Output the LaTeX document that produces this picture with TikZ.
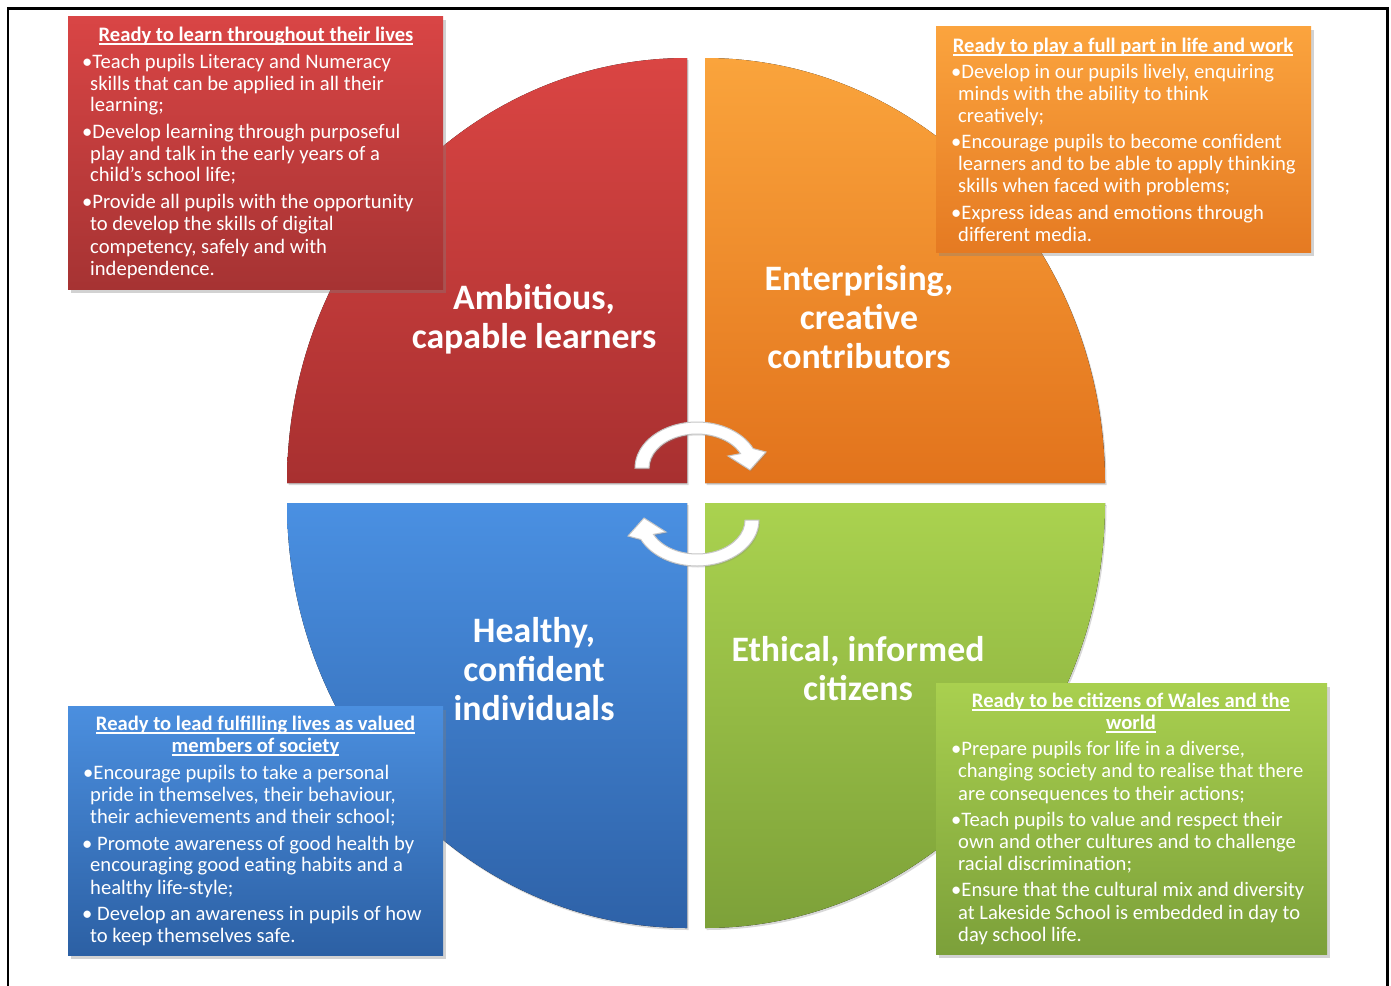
\documentclass[tikz,border=0pt]{standalone}
\usepackage{fontspec}
\setmainfont{Carlito}
\newcommand{\myul}[1]{\setbox0\hbox{#1}\rlap{\vrule height -2.4pt depth 3.7pt width \wd0}\box0}
\usetikzlibrary{shadows,calc}
\definecolor{qRedT}{HTML}{DA4543}
\definecolor{qRedB}{HTML}{A83030}
\definecolor{qOraT}{HTML}{FAA43C}
\definecolor{qOraB}{HTML}{E2731C}
\definecolor{qBluT}{HTML}{4A90E2}
\definecolor{qBluB}{HTML}{2E62A8}
\definecolor{qGreT}{HTML}{AAD24F}
\definecolor{qGreB}{HTML}{7DA139}
\definecolor{bRedT}{HTML}{D94545}
\definecolor{bRedB}{HTML}{A63333}
\definecolor{bOraT}{HTML}{FBA43E}
\definecolor{bOraB}{HTML}{E57A22}
\definecolor{bBluT}{HTML}{4B8FDF}
\definecolor{bBluB}{HTML}{2C60A4}
\definecolor{bGreT}{HTML}{A9D04F}
\definecolor{bGreB}{HTML}{7CA03A}
\begin{document}
\begin{tikzpicture}[x=1pt,y=-1pt,
  quad/.style={drop shadow={opacity=0.3,shadow xshift=1.5pt,shadow yshift=-2pt}},
  infobox/.style={draw=none,inner sep=0pt,drop shadow={opacity=0.35,shadow xshift=2.5pt,shadow yshift=-3.5pt}},
  bt/.style={font=\fontsize{20.6}{22}\selectfont,text=white,inner sep=0pt,anchor=base west},
  tt/.style={font=\bfseries\fontsize{20.6}{22}\selectfont,text=white,inner sep=0pt,anchor=base},
  big/.style={font=\bfseries\fontsize{35.8}{39}\selectfont,text=white,inner sep=0pt,anchor=base},
  arr/.style={fill=white,draw=gray!45,line width=1pt,drop shadow={opacity=0.25,shadow xshift=1pt,shadow yshift=-1.5pt}}]
\useasboundingbox (0,0) rectangle (1391,985);
\fill[white] (0,0) rectangle (1391,985);
\draw[line width=2.2pt] (8,995) -- (8,8.5) -- (1387.5,8.5) -- (1387.5,995);

% quadrants
\fill[quad,top color=qRedT,bottom color=qRedB] (687,483) -- (287,483) arc[start angle=180,end angle=270,x radius=400,y radius=425] -- cycle;
\fill[quad,top color=qOraT,bottom color=qOraB] (705,483) -- (705,58) arc[start angle=270,end angle=360,x radius=400,y radius=425] -- cycle;
\fill[quad,top color=qBluT,bottom color=qBluB] (687,503) -- (687,928) arc[start angle=90,end angle=180,x radius=400,y radius=425] -- cycle;
\fill[quad,top color=qGreT,bottom color=qGreB] (705,503) -- (1105,503) arc[start angle=0,end angle=90,x radius=400,y radius=425] -- cycle;

% circular arrows
\path[arr] (635,468) arc[start angle=180,end angle=335,x radius=62,y radius=46]
  -- (766,452) -- (750,470) -- (728,456) -- ($(697,468)+(335:48 and 34)$)
  arc[start angle=335,end angle=180,x radius=48,y radius=34] -- cycle;
\begin{scope}[rotate around={180:(697,494)}]
\path[arr] (635,468) arc[start angle=180,end angle=335,x radius=62,y radius=46]
  -- (766,452) -- (750,470) -- (728,456) -- ($(697,468)+(335:48 and 34)$)
  arc[start angle=335,end angle=180,x radius=48,y radius=34] -- cycle;
\end{scope}

% big labels
\node[big] (a1) at (534,309.5) {Ambitious,};
\node[big] (a2) at (534,348.5) {capable learners};
\node[big] (e1) at (859,290.5) {Enterprising,};
\node[big] (e2) at (859,329.5) {creative};
\node[big] (e3) at (859,368.5) {contributors};
\node[big] (h1) at (534,642.5) {Healthy,};
\node[big] (h2) at (534,681.5) {confident};
\node[big] (h3) at (534,720.5) {individuals};
\node[big] (c1) at (858,661.5) {Ethical, informed};
\node[big] (c2) at (858,700.5) {citizens};

% info boxes
\node[infobox,top color=bRedT,bottom color=bRedB,minimum width=375pt,minimum height=273pt] (rb) at (255.5,152.5) {};
\node[infobox,top color=bOraT,bottom color=bOraB,minimum width=375pt,minimum height=226pt] (ob) at (1123.5,139) {};
\node[infobox,top color=bBluT,bottom color=bBluB,minimum width=375pt,minimum height=249pt] (bb) at (255.5,830.5) {};
\node[infobox,top color=bGreT,bottom color=bGreB,minimum width=391pt,minimum height=271pt] (gb) at (1131.5,818.5) {};

% red box text
\node[tt] (rt) at (256,41) {\myul{Ready to learn throughout their lives}};
\node[bt] (r1) at (82,68) {•Teach pupils Literacy and Numeracy};
\node[bt] (r2) at (90,90) {skills that can be applied in all their};
\node[bt] (r3) at (90,111.5) {learning;};
\node[bt] (r4) at (82,138) {•Develop learning through purposeful};
\node[bt] (r5) at (90,160.5) {play and talk in the early years of a};
\node[bt] (r6) at (90,181.5) {child’s school life;};
\node[bt] (r7) at (82,208) {•Provide all pupils with the opportunity};
\node[bt] (r8) at (90,230.5) {to develop the skills of digital};
\node[bt] (r9) at (90,253) {competency, safely and with};
\node[bt] (r10) at (90,275) {independence.};

% orange box text
\node[tt] (ot) at (1123,52) {\myul{Ready to play a full part in life and work}};
\node[bt] (o1) at (951,78) {•Develop in our pupils lively, enquiring};
\node[bt] (o2) at (958,100) {minds with the ability to think};
\node[bt] (o3) at (958,122.5) {creatively;};
\node[bt] (o4) at (951,148.5) {•Encourage pupils to become confident};
\node[bt] (o5) at (958,170.5) {learners and to be able to apply thinking};
\node[bt] (o6) at (958,192.5) {skills when faced with problems;};
\node[bt] (o7) at (951,219.5) {•Express ideas and emotions through};
\node[bt] (o8) at (958,241) {different media.};

% blue box text
\node[tt] (bt1) at (255.5,730) {\myul{Ready to lead fulfilling lives as valued}};
\node[tt] (bt2) at (255.5,752) {\myul{members of society}};
\node[bt] (b1) at (83,779.5) {•Encourage pupils to take a personal};
\node[bt] (b2) at (90,801) {pride in themselves, their behaviour,};
\node[bt] (b3) at (90,823) {their achievements and their school;};
\node[bt] (b4) at (82,850.5) {• Promote awareness of good health by};
\node[bt] (b5) at (90,871) {encouraging good eating habits and a};
\node[bt] (b6) at (90,894.5) {healthy life-style;};
\node[bt] (b7) at (82,920.5) {• Develop an awareness in pupils of how};
\node[bt] (b8) at (90,942.5) {to keep themselves safe.};

% green box text
\node[tt] (gt1) at (1131,707) {\myul{Ready to be citizens of Wales and the}};
\node[tt] (gt2) at (1131,729) {\myul{world}};
\node[bt] (g1) at (951,755.5) {•Prepare pupils for life in a diverse,};
\node[bt] (g2) at (958,777.5) {changing society and to realise that there};
\node[bt] (g3) at (958,800.5) {are consequences to their actions;};
\node[bt] (g4) at (951,826) {•Teach pupils to value and respect their};
\node[bt] (g5) at (958,848) {own and other cultures and to challenge};
\node[bt] (g6) at (958,870.5) {racial discrimination;};
\node[bt] (g7) at (951,896.5) {•Ensure that the cultural mix and diversity};
\node[bt] (g8) at (958,919.5) {at Lakeside School is embedded in day to};
\node[bt] (g9) at (958,941) {day school life.};
\end{tikzpicture}
\end{document}
